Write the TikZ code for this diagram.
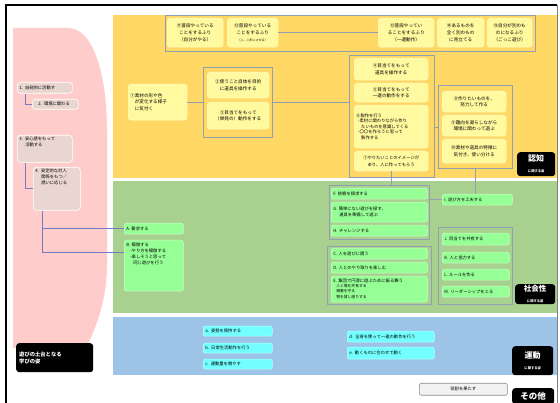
\documentclass[tikz,border=0pt]{standalone}
\usepackage{fontspec}
\newfontfamily\cjk{Noto Sans CJK JP}
\XeTeXlinebreaklocale "ja"
\usetikzlibrary{calc}
\definecolor{yellowbg}{RGB}{255,215,100}
\definecolor{ybox}{RGB}{255,250,160}
\definecolor{greenbg}{RGB}{168,208,142}
\definecolor{gbox}{RGB}{150,255,150}
\definecolor{bluebg}{RGB}{157,195,230}
\definecolor{bbox}{RGB}{115,255,255}
\definecolor{pinkbg}{RGB}{255,204,204}
\definecolor{pbox}{RGB}{233,214,208}
\definecolor{grp}{RGB}{145,160,176}
\definecolor{lineb}{RGB}{118,124,196}
\newcommand\bx[7]{%
  \pgfmathsetmacro\bxw{#5-#3}\pgfmathsetmacro\bxh{#6-#4}\pgfmathsetmacro\bxt{#5-#3-4}%
  \node[#2,anchor=north west,inner xsep=2pt,inner ysep=1pt,minimum width=\bxw pt,minimum height=\bxh pt,text width=\bxt pt] (#1) at (#3,#4) {#7};}
\tikzset{
  base/.style={font=\cjk\fontsize{4.6}{6.8}\selectfont},
  ynode/.style={base,fill=ybox,draw=ybox!60!white,line width=0.4pt,rounded corners=3pt,align=center},
  ynodel/.style={ynode,align=left},
  gnode/.style={base,font=\cjk\fontsize{4.3}{6}\selectfont,fill=gbox,draw=gbox!50!white,line width=0.5pt,rounded corners=2pt,align=left},
  bnode/.style={base,font=\cjk\fontsize{4.3}{6}\selectfont,fill=bbox,draw=bbox!50!white,line width=0.5pt,rounded corners=2pt,align=left,inner xsep=4pt},
  pnode/.style={base,font=\cjk\fontsize{4.3}{6}\selectfont,fill=pbox,draw=white,line width=0.6pt,rounded corners=3pt,align=left},
  grpbox/.style={draw=grp,line width=0.8pt},
  blab/.style={fill=black,text=white,rounded corners=3pt,align=center,font=\cjk\bfseries},
  conn/.style={draw=grp,line width=0.6pt},
  connb/.style={draw=lineb,line width=0.6pt},
}
\begin{document}
\begin{tikzpicture}[x=1pt,y=-1pt]
\useasboundingbox (0,0) rectangle (560,403);
\fill[white] (0,0) rectangle (560,403);
% frame
\draw[black,line width=1.8pt] (6,403) -- (6,5) -- (557,5);
\draw[gray,line width=0.6pt] (557,5) -- (557,403);
% regions
\fill[pinkbg] (13,28) -- (68,28) .. controls (95,28) and (107,80) .. (107,130) -- (107,265) .. controls (107,300) and (96,328) .. (86,348) -- (13,348) -- cycle;
\fill[yellowbg] (113,15) rectangle (557,178);
\fill[greenbg] (113,181) rectangle (557,313);
\fill[bluebg] (113,317) rectangle (557,375);

% ---------- yellow (cognition) ----------
\bx{gtop}{grpbox}{165}{15}{535}{51}{}
\bx{n11}{ynode}{167}{18}{223}{47}{⑪普段やっている\\ことをするふり\\（自分がやる）}
\bx{n12}{ynode}{227}{18}{278}{47}{⑫普段やっている\\ことをするふり\\{\fontsize{3}{4}\selectfont（人、人形にさせる）}}
\bx{n13}{ynode}{378}{18}{434}{47}{⑬普段やってい\\ることをするふり\\（一連動作）}
\bx{n14}{ynode}{437}{18}{484}{47}{⑭あるものを\\全く別のもの\\に見立てる}
\bx{n15}{ynode}{487}{18}{532}{47}{⑮自分が別のも\\のになるふり\\（ごっこ遊び）}
\draw[conn] (n12.east) -- (n13.west);

\bx{n1}{ynodel,inner xsep=5pt}{128}{84}{187}{120}{①素材の形や色\\　が変化する様子\\　に気付く}
\bx{g23}{grpbox}{203}{67}{272}{137}{}
\bx{n2}{ynode}{207}{72}{269}{98}{②使うこと自体を目的\\に道具を操作する}
\bx{n3}{ynode}{207}{102}{269}{129}{③目当てをもって\\（単発の）動作をする}
\draw[conn] (n1.east) -- (n1.east -| g23.west);

\bx{g47}{grpbox}{349}{55}{434}{177}{}
\bx{n4}{ynode}{354}{58}{428}{80}{④目当てをもって\\道具を操作する}
\bx{n5}{ynode}{354}{83}{428}{102}{⑤目当てをもって\\一連の動作をする}
\bx{n6}{ynodel,inner xsep=5pt,font=\cjk\fontsize{4.3}{5.4}\selectfont}{354}{105}{428}{148}{⑥製作を行う\\\hspace*{2pt}-素材に関わりながら作り\\\hspace*{5pt}たいものを意識してくる\\\hspace*{2pt}-〇〇を作ろうと思って\\\hspace*{5pt}製作する}
\bx{n7}{ynode,font=\cjk\fontsize{4.3}{6.5}\selectfont}{354}{151}{428}{171}{⑦やりたいことのイメージが\\あり、人に作ってもらう}
\draw[conn] (g23.east) -- (g23.east -| g47.west);

\bx{g810}{grpbox}{438}{85}{512}{168}{}
\bx{n8}{ynode}{442}{91}{506}{112}{⑧作りたいものを、\\努力して作る}
\bx{n9}{ynode}{442}{115}{506}{136}{⑨趣向を凝らしながら\\環境に関わって遊ぶ}
\bx{n10}{ynode}{442}{139}{506}{163}{⑩素材や道具の特徴に\\気付き、使い分ける}
\draw[conn] (g810.west -| g47.east) -- (g810.west);

\node[blab,anchor=north west,minimum width=38pt,minimum height=24pt,inner sep=1pt] (lab1) at (517,152) {{\fontsize{8}{9}\selectfont 認知}\\[-1pt]{\fontsize{3.3}{4}\selectfont に関する姿}};

% ---------- green (sociality) ----------
\bx{gFH}{grpbox}{329}{185}{429}{239}{}
\bx{nF}{gnode}{331}{188}{427}{199}{F. 挑戦を探求する}
\bx{nG}{gnode}{331}{202}{427}{222}{G. 簡単にない遊びを探す、\\\hspace*{6pt}道具を準備して遊ぶ}
\bx{nH}{gnode}{331}{225}{427}{236}{H. チャレンジする}
\bx{nI}{gnode}{442}{194}{512}{205}{I. 遊び方を工夫する}
\draw[conn] (n7.south) -- (n7.south |- gFH.north);
\draw[conn] (g810.south) -- (g810.south |- nI.north);
\draw[conn] (nI.west -| gFH.east) -- (nI.west);

\bx{gCE}{grpbox}{327}{246}{431}{304}{}
\bx{nC}{gnode}{331}{248}{427}{259}{C. 人を遊びに誘う}
\bx{nD}{gnode}{331}{262}{427}{273}{D. 人とのやり取りを楽しむ}
\bx{nE}{gnode}{331}{276}{427}{302}{E. 集団で円滑に遊ぶために振る舞う\\{\fontsize{3.8}{5}\selectfont\hspace*{3pt}人と場を共有する\\\hspace*{3pt}順番を守る\\\hspace*{3pt}物を貸し借りする}}

\bx{gJM}{grpbox}{438}{227}{512}{304}{}
\bx{nJ}{gnode}{442}{233}{509}{245}{J. 目当てを共有する}
\bx{nK}{gnode}{442}{252}{509}{263}{K. 人と協力する}
\bx{nL}{gnode}{442}{269}{509}{280}{L. ルールを作る}
\bx{nM}{gnode}{442}{286}{509}{297}{M. リーダーシップをとる}

\node[blab,anchor=north west,minimum width=40pt,minimum height=20pt,inner sep=1pt] (lab2) at (515,284) {{\fontsize{7.5}{8.5}\selectfont 社会性}\\[-1pt]{\fontsize{3.3}{4}\selectfont に関する姿}};

\bx{nA}{gnode}{124}{223}{183}{234}{A. 要求する}
\node[gnode,anchor=north west,inner xsep=2pt,inner ysep=2pt,minimum width=59pt,minimum height=51pt,text width=55pt,text height=3pt] (nB) at (124,240) {\parbox[t][46pt][t]{55pt}{B. 模倣する\\\hspace*{4pt}-やり方を模倣する\\\hspace*{4pt}-楽しそうと思って\\\hspace*{7pt}同じ遊びを行う}};

% ---------- blue (motor) ----------
\bx{na}{bnode}{203}{326}{272}{336}{a. 姿勢を保持する}
\bx{nb}{bnode}{203}{343}{272}{353}{b. 日常生活動作を行う}
\bx{nc}{bnode}{203}{359}{272}{369}{c. 運動量を増やす}
\bx{nd}{bnode}{347}{331}{434}{342}{d. 全身を使って一連の動作を行う}
\bx{ne}{bnode}{347}{347}{434}{359}{e. 動くものに合わせて動く}
\node[blab,anchor=north west,minimum width=41pt,minimum height=29pt,inner sep=1pt] (lab3) at (512,346) {{\fontsize{8}{9}\selectfont 運動}\\[-1pt]{\fontsize{3.3}{4}\selectfont に関する姿}};

% ---------- other ----------
\node[base,font=\cjk\fontsize{4.3}{5}\selectfont,fill=black!5,draw=black!45,line width=0.6pt,rounded corners=2pt,anchor=north west,minimum width=88pt,minimum height=12pt,inner sep=1pt] (nRole) at (419,383) {役割を果たす};
\node[blab,anchor=north west,minimum width=42pt,minimum height=16pt,inner sep=1pt,font=\cjk\bfseries\fontsize{8.5}{9}\selectfont] (lab4) at (512,388) {その他};

% ---------- pink (foundation) ----------
\bx{p1}{pnode}{17}{82}{72}{93}{1. 自発的に活動す}
\bx{p2}{pnode}{32}{99}{78}{109}{\hspace*{4pt}2. 環境に関わる}
\node[pnode,anchor=north west,inner xsep=2pt,inner ysep=2pt,minimum width=55pt,minimum height=27pt,text width=51pt] (p3) at (17,135) {\parbox[t][23pt][t]{51pt}{3. 安心感をもって\\\hspace*{6pt}活動する}};
\node[pnode,anchor=north west,inner xsep=2pt,inner ysep=2pt,minimum width=47pt,minimum height=43pt,text width=43pt] (p4) at (33,167) {\parbox[t][39pt][t]{43pt}{4. 安定的な対人\\\hspace*{6pt}関係をもつ／\\\hspace*{6pt}誘いに応じる}};
\draw[connb] ([xshift=8pt]p1.south west) |- (p2.west);
\draw[connb] ([xshift=8pt]p3.south west) |- (p4.west);
\draw[connb] ([xshift=9pt]p4.south west) |- (nA.west);
\draw[connb] ([xshift=9pt]p4.south west) |- ($(nB.north west)!0.23!(nB.south west)$);

\node[blab,anchor=north west,minimum width=77pt,minimum height=29pt,inner sep=3pt,align=left,font=\cjk\bfseries\fontsize{5.3}{7}\selectfont,text width=71pt] (lab5) at (16,343) {遊びの土台となる\\学びの姿};
\end{tikzpicture}
\end{document}
